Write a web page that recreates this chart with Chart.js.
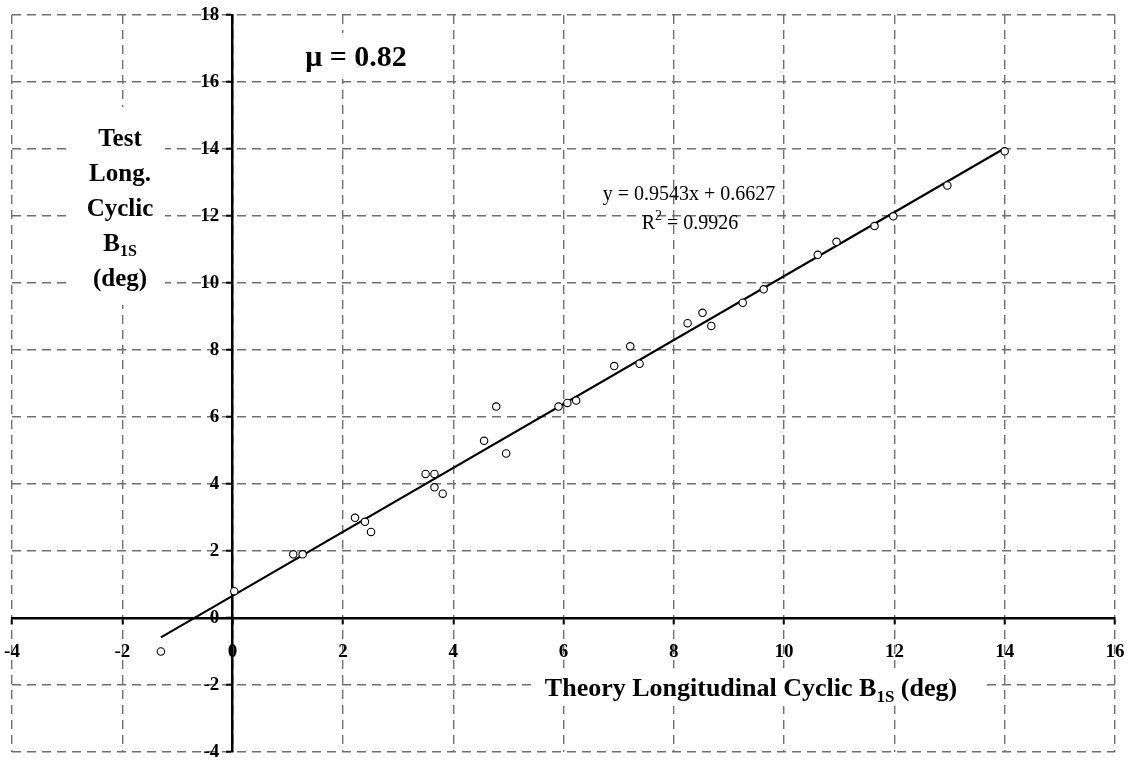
<!DOCTYPE html>
<html>
<head>
<meta charset="utf-8">
<script src="https://cdn.jsdelivr.net/npm/chart.js@4.4.1/dist/chart.umd.min.js"></script>
<style>
  html, body { margin: 0; padding: 0; background: #fff; }
  #wrap { width: 1130px; height: 761px; }
</style>
</head>
<body>
<div id="wrap"><canvas id="chart"></canvas></div>
<script>
// longitudinal cyclic, theory vs test (deg)
const theoryB1s = [-1.3, 0.03, 1.10, 1.27, 2.22, 2.40, 2.51, 3.50, 3.66, 3.66, 3.81,
  4.56, 4.78, 4.96, 5.91, 6.07, 6.23, 6.92, 7.21, 7.38, 8.25, 8.52, 8.68, 9.25,
  9.63, 10.61, 10.95, 11.64, 11.98, 12.96, 14.0];
const testB1s = [-1.0, 0.80, 1.90, 1.90, 2.99, 2.87, 2.57, 4.30, 4.30, 3.90, 3.71,
  5.29, 6.31, 4.91, 6.31, 6.42, 6.49, 7.52, 8.11, 7.59, 8.80, 9.11, 8.72, 9.41,
  9.81, 10.84, 11.23, 11.70, 11.99, 12.91, 13.93];

const xLimits = [-4, 16];
const yLimits = [-4, 18];
const tickStep = 2;

// linear fit shown on the chart
const fitSlope = 0.9543;
const fitIntercept = 0.6627;
const fitR2 = 0.9926;
const muValue = 0.82;

const SERIF = '"Liberation Serif", "Times New Roman", serif';

const points = theoryB1s.map((x, i) => ({ x: x, y: testB1s[i] }));
const xLo = Math.min(...theoryB1s);
const xHi = Math.max(...theoryB1s);
const fitLine = [
  { x: xLo, y: fitSlope * xLo + fitIntercept },
  { x: xHi, y: fitSlope * xHi + fitIntercept }
];

// draw a run of text pieces (for sub/superscripts), centred on cx
function drawRun(ctx, parts, cx, baseline) {
  let total = 0;
  parts.forEach(p => {
    ctx.font = p.font;
    p.w = ctx.measureText(p.t).width;
    total += p.w;
  });
  let x = cx - total / 2;
  ctx.textAlign = 'left';
  ctx.textBaseline = 'alphabetic';
  parts.forEach(p => {
    ctx.font = p.font;
    ctx.fillText(p.t, x, baseline + (p.dy || 0));
    x += p.w;
  });
  return total;
}

const labelsPlugin = {
  id: 'labels',
  beforeDatasetsDraw(chart) {
    const ctx = chart.ctx;
    ctx.save();

    // title backgrounds hide the grid behind them
    ctx.fillStyle = '#fff';
    ctx.fillRect(67, 107, 98, 198);
    ctx.fillRect(296, 33, 122, 46);
    ctx.fillRect(534, 668, 450, 38);

    ctx.fillStyle = '#000';
    const bold = s => 'bold ' + s + 'px ' + SERIF;
    const reg = s => s + 'px ' + SERIF;

    // y axis title
    const yLines = [
      [{ t: 'Test', font: bold(25) }],
      [{ t: 'Long.', font: bold(25) }],
      [{ t: 'Cyclic', font: bold(25) }],
      [{ t: 'B', font: bold(25) }, { t: '1S', font: bold(16), dy: 5 }],
      [{ t: '(deg)', font: bold(25) }]
    ];
    yLines.forEach((parts, i) => drawRun(ctx, parts, 120, 146 + i * 35));

    // x axis title
    drawRun(ctx, [
      { t: 'Theory Longitudinal Cyclic B', font: bold(26) },
      { t: '1S', font: bold(17), dy: 6 },
      { t: ' (deg)', font: bold(26) }
    ], 751, 696);

    // advance ratio
    drawRun(ctx, [{ t: '\u03bc = ' + muValue.toFixed(2), font: bold(30) }], 356, 66);

    // fit equation
    drawRun(ctx, [{ t: 'y = ' + fitSlope.toFixed(4) + 'x + ' + fitIntercept.toFixed(4), font: reg(20) }], 689, 200);
    drawRun(ctx, [
      { t: 'R', font: reg(20) },
      { t: '2', font: reg(14), dy: -9 },
      { t: ' = ' + fitR2.toFixed(4), font: reg(20) }
    ], 690, 229);

    ctx.restore();
  }
};

const gridOpts = {
  color: '#707070',
  lineWidth: 1.4,
  tickLength: 5,
  tickColor: '#000',
  tickWidth: 2,
  z: -1
};

// centred axes: keep the plot area set by layout.padding alone
function noLabelPadding(axis) {
  axis.paddingLeft = 0;
  axis.paddingRight = 0;
  axis.paddingTop = 0;
  axis.paddingBottom = 0;
}

new Chart(document.getElementById('chart'), {
  type: 'scatter',
  data: {
    datasets: [
      {
        label: 'test',
        data: points,
        pointStyle: 'circle',
        pointRadius: 3.7,
        pointBorderWidth: 1.1,
        borderColor: '#000',
        backgroundColor: '#fff',
        order: 0
      },
      {
        label: 'fit',
        type: 'line',
        data: fitLine,
        borderColor: '#000',
        borderWidth: 2.2,
        pointRadius: 0,
        fill: false,
        order: 1
      }
    ]
  },
  options: {
    responsive: true,
    maintainAspectRatio: false,
    animation: false,
    layout: { padding: { left: 12, right: 15, top: 15, bottom: 9 } },
    plugins: {
      legend: { display: false },
      tooltip: { enabled: false }
    },
    scales: {
      x: {
        type: 'linear',
        position: { y: 0 },
        min: xLimits[0],
        max: xLimits[1],
        afterFit: noLabelPadding,
        ticks: {
          stepSize: tickStep,
          color: '#000',
          padding: 18,
          maxRotation: 0,
          font: { family: SERIF, size: 19, weight: 'bold' }
        },
        grid: gridOpts,
        border: { display: true, color: '#000', width: 2.5, dash: [9, 6] }
      },
      y: {
        type: 'linear',
        position: { x: 0 },
        min: yLimits[0],
        max: yLimits[1],
        afterFit: noLabelPadding,
        ticks: {
          stepSize: tickStep,
          color: '#000',
          font: { family: SERIF, size: 19, weight: 'bold' },
          // labels sit right-aligned on the axis line; trailing gap pushes them left
          callback: v => v + '\u2002\u2009'
        },
        grid: gridOpts,
        border: { display: true, color: '#000', width: 2.5, dash: [9, 6] }
      }
    }
  },
  plugins: [labelsPlugin]
});
</script>
</body>
</html>
